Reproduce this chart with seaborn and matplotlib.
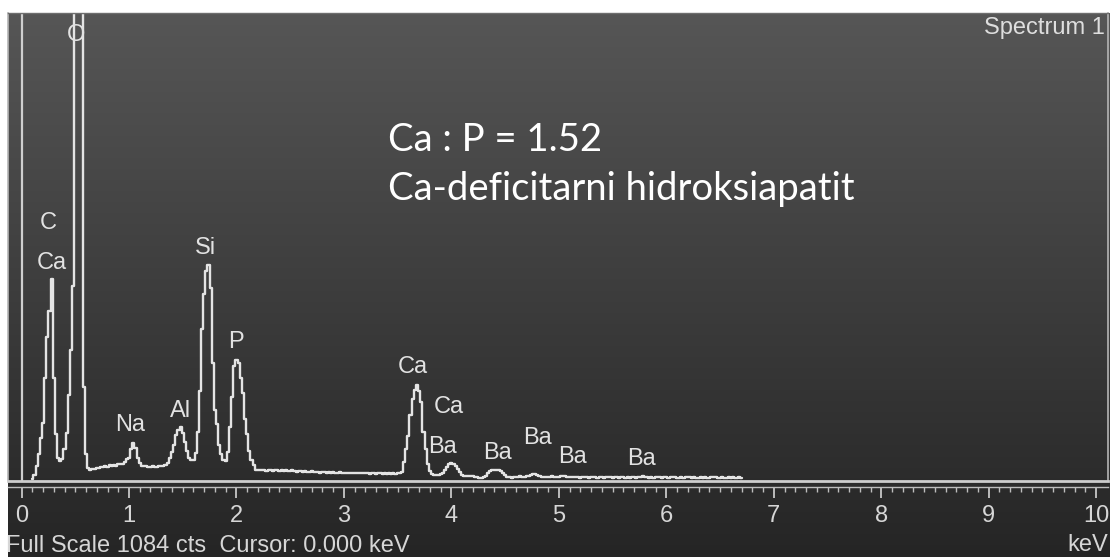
import numpy as np
import pandas as pd
import seaborn as sns
import matplotlib
matplotlib.use('Agg')
import matplotlib.pyplot as plt
from matplotlib.colors import LinearSegmentedColormap
from matplotlib.ticker import FixedLocator

# EDS spectrum (Spectrum 1), 20 eV channels from 0 keV, counts
kev_per_channel = 0.02
counts = [
    np.nan, np.nan, np.nan, np.nan, np.nan, 0, 10, 30, 58, 95,        # 0.00
    130, 235, 330, 390, 465, 235, 105, 50, 42, 46,                    # 0.20
    70, 108, 195, 300, 450, 1300, 1900, 1800, 1100, 215,              # 0.40
    58, 26, 22, 24, 23, 26, 25, 28, 27, 30,                           # 0.60
    28, 32, 30, 33, 31, 34, 36, 35, 40, 46,                           # 0.80
    50, 70, 84, 72, 50, 37, 31, 30, 31, 29,                           # 1.00
    28, 30, 28, 29, 30, 31, 30, 33, 38, 48,                           # 1.20
    62, 80, 102, 113, 121, 108, 86, 66, 50, 44,                       # 1.40
    45, 60, 110, 205, 350, 430, 485, 498, 445, 270,                   # 1.60
    160, 128, 80, 58, 45, 42, 62, 120, 190, 262,                      # 1.80
    277, 270, 235, 200, 140, 105, 65, 45, 32, 22,                     # 2.00
    21, 22, 20, 21, 19, 22, 20, 19, 21, 20,                           # 2.20
    19, 20, 18, 20, 19, 18, 20, 19, 17, 18,                           # 2.40
    19, 17, 18, 17, 16, 18, 17, 16, 17, 15,                           # 2.60
    16, 17, 15, 16, 14, 16, 15, 14, 16, 15,                           # 2.80
    14, 15, 13, 15, 14, 13, 14, 15, 13, 14,                           # 3.00
    13, 14, 12, 14, 13, 12, 14, 13, 12, 13,                           # 3.20
    12, 13, 12, 13, 12, 13, 13, 16, 40, 70,                           # 3.40
    100, 150, 185, 208, 219, 205, 180, 110, 70, 35,                   # 3.60
    18, 12, 10, 9, 9, 11, 15, 22, 29, 34,                             # 3.80
    37, 36, 31, 24, 16, 10, 8, 7, 6, 7,                               # 4.00
    6, 5, 4, 3, 2, 4, 8, 14, 19, 21,                                  # 4.20
    21, 20, 21, 19, 15, 9, 5, 4, 3, 4,                                # 4.40
    5, 4, 6, 5, 4, 6, 8, 10, 12, 11,                                  # 4.60
    9, 6, 5, 4, 5, 4, 5, 6, 5, 4,                                     # 4.80
    5, 6, 8, 7, 5, 4, 5, 4, 5, 4,                                     # 5.00
    3, 4, 5, 4, 3, 4, 5, 4, 3, 4,                                     # 5.20
    4, 3, 4, 5, 4, 3, 4, 4, 3, 5,                                     # 5.40
    4, 3, 4, 3, 5, 4, 3, 4, 5, 6,                                     # 5.60
    5, 4, 3, 4, 3, 4, 5, 4, 3, 4,                                     # 5.80
    4, 3, 4, 5, 4, 3, 3, 4, 3, 4,                                     # 6.00
    5, 4, 3, 4, 3, 3, 4, 3, 4, 3,                                     # 6.20
    3, 4, 5, 4, 3, 3, 4, 3, 3, 4,                                     # 6.40
    3, 4, 3, 3, 4, 3,                                                 # 6.60
]
full_scale = 1084
cursor_kev = 0.0

# element labels: name, keV position, counts position
peak_names = ['O', 'C', 'Ca', 'Na', 'Al', 'Si', 'P', 'Ca', 'Ca', 'Ba', 'Ba', 'Ba', 'Ba', 'Ba']
peak_kev = [0.507, 0.247, 0.284, 1.01, 1.475, 1.708, 1.996, 3.64, 3.98, 3.92, 4.43, 4.80, 5.13, 5.77]
peak_cts = [1033, 595, 502, 126, 158, 537, 319, 260, 167, 74, 60, 95, 51, 47]

tick_kev = [0, 1, 2, 3, 4, 5, 6, 7, 8, 9, 10]
note_lines = ['Ca : P = 1.52', 'Ca-deficitarni hidroksiapatit']

df = pd.DataFrame({'keV': np.arange(len(counts)) * kev_per_channel, 'counts': counts})

sns.set_theme(style='ticks')
plt.rcParams['font.family'] = ['Liberation Sans', 'DejaVu Sans']

W, H = 1111, 557
fig = plt.figure(figsize=(W / 100, H / 100), dpi=100, facecolor='white')


def box(x0, y0, x1, y1):
    # pixel box (top-left origin) -> figure fraction rect
    return [x0 / W, 1 - y1 / H, (x1 - x0) / W, (y1 - y0) / H]


# dark gradient panel
bg = fig.add_axes(box(8, 13, 1110, 557), zorder=0)
grad = np.linspace(0, 1, 256).reshape(-1, 1)
bg.imshow(grad, aspect='auto', origin='upper', extent=[0, 1, 0, 1],
          cmap=LinearSegmentedColormap.from_list('panel', ['#565656', '#252525']))
bg.set_axis_off()

# spectrum
ax = fig.add_axes(box(8, 13, 1108, 481), zorder=2)
ax.set_facecolor('none')
sns.lineplot(data=df, x='keV', y='counts', ax=ax, color='#e4e4e4', lw=1.7,
             drawstyle='steps-mid', estimator=None, sort=False, legend=False)
ax.axvline(cursor_kev, color='#cfcfcf', lw=1.6)
ax.set_xlim(-0.126, 10.11)
ax.set_ylim(-4.65, full_scale)
ax.set_xticks([])
ax.set_yticks([])
ax.set_xlabel('')
ax.set_ylabel('')
ax.grid(False)
ax.spines['bottom'].set(color='#cdcdcd', lw=2)
ax.spines['left'].set(color='#b5b5b5', lw=1.2)
ax.spines['right'].set(color='#b5b5b5', lw=1.2)
ax.spines['top'].set(color='#6e6e6e', lw=1)

for name, k, c in zip(peak_names, peak_kev, peak_cts):
    ax.text(k, c, name, ha='center', va='center', color='#e2e2e2', fontsize=17, clip_on=False)

# keV ruler under the spectrum
rax = fig.add_axes(box(8, 485, 1108, 487), zorder=2)
rax.set_facecolor('none')
rax.set_xlim(ax.get_xlim())
rax.set_yticks([])
for s in ['top', 'left', 'right']:
    rax.spines[s].set_visible(False)
rax.spines['bottom'].set(color='#bdbdbd', lw=1)
rax.set_xticks(tick_kev)
rax.set_xticklabels([str(t) for t in tick_kev])
rax.xaxis.set_minor_locator(FixedLocator([t / 10 for t in range(0, 101)]))
rax.tick_params(axis='x', which='major', length=8, width=1.3, color='#c8c8c8',
                pad=5, labelsize=17, labelcolor='#d6d6d6', direction='out')
rax.tick_params(axis='x', which='minor', length=3.8, width=1, color='#bdbdbd', direction='out')

fig.text(1105 / W, 1 - 28 / H, 'Spectrum 1', ha='right', va='center', color='#dedede', fontsize=17)
fig.text(6 / W, 1 - 546 / H, f'Full Scale {full_scale} cts  Cursor: {cursor_kev:.3f} keV',
         ha='left', va='center', color='#d6d6d6', fontsize=17)
fig.text(1108 / W, 1 - 545 / H, 'keV', ha='right', va='center', color='#d6d6d6', fontsize=17)

fig.text(388 / W, 1 - 151 / H, note_lines[0], ha='left', va='baseline', color='white',
         fontsize=27.5, family=['Lato', 'DejaVu Sans'])
fig.text(388 / W, 1 - 200 / H, note_lines[1], ha='left', va='baseline', color='white',
         fontsize=27.5, family=['Lato', 'DejaVu Sans'])

fig.savefig('out.png', dpi=100, facecolor='white')
